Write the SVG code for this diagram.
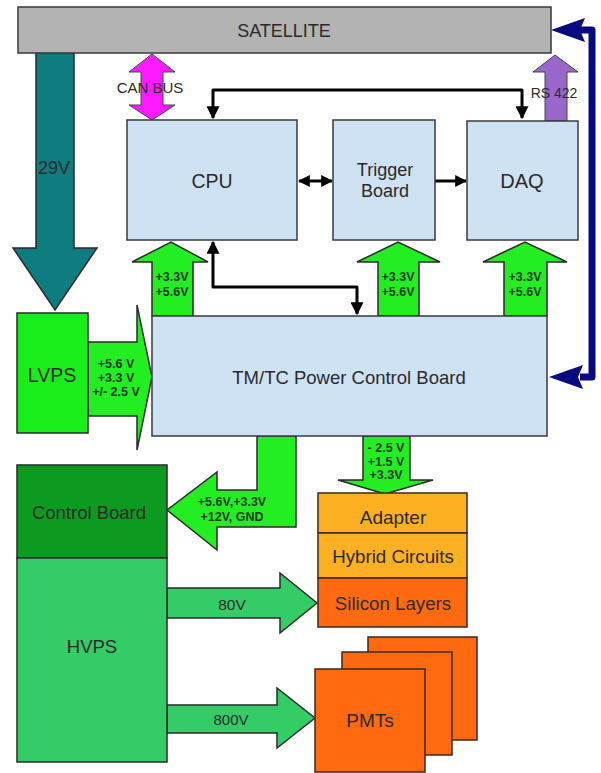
<svg xmlns="http://www.w3.org/2000/svg" width="601" height="773" viewBox="0 0 601 773">
<defs>
<style>
.box{fill:#cfe2f3;stroke:#3a3a3a;stroke-width:1.5}
.t{font-family:"Liberation Sans",Arial,sans-serif;fill:#2a2a2a;text-anchor:middle;dominant-baseline:central}
.s{font-size:12.5px;font-weight:bold;fill:#1a3a1a}
.pw{fill:#22ee22;stroke:#2a2a2a;stroke-width:1.5;stroke-linejoin:miter}
.hv{fill:#33cc66;stroke:#2a2a2a;stroke-width:1.5}
.blk{fill:none;stroke:#000;stroke-width:3;stroke-linejoin:round}
.org{fill:#ff6a10;stroke:#3a2a1a;stroke-width:1.5}
.yel{fill:#fdb021;stroke:#3a2a1a;stroke-width:1.5}
</style>
<marker id="ah" viewBox="0 0 10 10" refX="9" refY="5" markerWidth="18" markerHeight="13" markerUnits="userSpaceOnUse" orient="auto-start-reverse">
<path d="M0,0 L10,5 L0,10 z" fill="#000"/>
</marker>
<marker id="ahs" viewBox="0 0 10 10" refX="9" refY="5" markerWidth="12" markerHeight="12" markerUnits="userSpaceOnUse" orient="auto-start-reverse">
<path d="M0,0 L10,5 L0,10 z" fill="#000"/>
</marker>
</defs>
<rect width="601" height="773" fill="#fff"/>

<g id="connectors">
<!-- 29V teal arrow -->
<polygon points="36,53 74,53 74,248 97,248 55,310 13,248 36,248" fill="#0f7c80" stroke="#2a2a2a" stroke-width="1.5"/>
<text class="t" x="54" y="168" font-size="18" fill="#1a2a2a">29V</text>
<!-- CAN BUS double arrow -->
<polygon points="152,54 175,72 163,72 163,105 175,105 152,120 129,105 141,105 141,72 129,72" fill="#ff1aff" stroke="#444" stroke-width="1"/>
<text class="t" x="150" y="87" font-size="15" fill="#555">CAN BUS</text>
<!-- RS 422 purple arrow -->
<polygon points="555,55 578,72 567,72 567,121 545,121 545,72 533,72" fill="#9966cc" stroke="#444" stroke-width="1"/>
<text class="t" x="554" y="93" font-size="14" fill="#555">RS 422</text>
<!-- black CPU - DAQ top link -->
<path class="blk" d="M213,118 V90 H522 V118" marker-start="url(#ah)" marker-end="url(#ah)"/>
<!-- CPU <-> Trigger -->
<path class="blk" d="M299,181 H332" stroke-width="2" marker-start="url(#ahs)" marker-end="url(#ahs)"/>
<!-- Trigger -> DAQ -->
<path class="blk" d="M435,181 H466" stroke-width="2" marker-end="url(#ahs)"/>
<!-- CPU <-> TM/TC -->
<path class="blk" d="M213,242 V287 H357 V314" marker-start="url(#ah)" marker-end="url(#ah)"/>
<!-- power arrows up -->
<polygon class="pw" points="152,316 152,262 132,262 171,242 208,262 193,262 193,316"/>
<text class="t s" x="172" y="277">+3.3V</text>
<text class="t s" x="172" y="292">+5.6V</text>
<polygon class="pw" points="378,316 378,262 357,262 398,242 440,262 419,262 419,316"/>
<text class="t s" x="398" y="277">+3.3V</text>
<text class="t s" x="398" y="292">+5.6V</text>
<polygon class="pw" points="504,316 504,262 483,262 525,242 567,262 547,262 547,316"/>
<text class="t s" x="525" y="277">+3.3V</text>
<text class="t s" x="525" y="292">+5.6V</text>
<!-- LVPS -> TM/TC -->
<polygon class="pw" points="88,342 137,342 137,305 152,377 137,450 137,416 88,416"/>
<text class="t s" x="116" y="364" font-size="12">+5.6 V</text>
<text class="t s" x="116" y="378" font-size="12">+3.3 V</text>
<text class="t s" x="116" y="392" font-size="12">+/- 2.5 V</text>
<!-- TM/TC -> Control Board -->
<polygon class="pw" points="167,510 217,472 217,490 257,490 257,436 296,436 296,527 217,527 217,550"/>
<text class="t s" x="232" y="502">+5.6V,+3.3V</text>
<text class="t s" x="232" y="517">+12V, GND</text>
<!-- TM/TC -> Adapter -->
<polygon class="pw" points="363,436 410,436 410,480 433,480 385,494 338,480 363,480"/>
<text class="t s" x="386" y="448">- 2.5 V</text>
<text class="t s" x="386" y="462">+1.5 V</text>
<text class="t s" x="386" y="475">+3.3V</text>
<!-- HVPS arrows -->
<polygon class="hv" points="167,588 280,588 280,573 317,603 280,633 280,618 167,618"/>
<text class="t" x="232" y="604" font-size="15.5">80V</text>
<polygon class="hv" points="167,705 277,705 277,688 315,718 277,748 277,733 167,733"/>
<text class="t" x="231" y="719" font-size="15">800V</text>
<!-- navy link satellite <-> TM/TC -->
<path d="M580,30 H592 V377 H580" fill="none" stroke="#0a0a80" stroke-width="7" stroke-linejoin="round"/>
<polygon points="551,30 585,18 580,30 585,42" fill="#0a0a80"/>
<polygon points="549,377 583,365 578,377 583,389" fill="#0a0a80"/>
</g>

<g id="satellite">
<rect x="18" y="7" width="533" height="46" fill="#b3b3b3" stroke="#3a3a3a" stroke-width="1.5"/>
<text class="t" x="284" y="31" font-size="18">SATELLITE</text>
</g>
<g id="cpu">
<rect class="box" x="127" y="120" width="170" height="120"/>
<text class="t" x="212" y="181" font-size="19.5">CPU</text>
</g>
<g id="trigger">
<rect class="box" x="333" y="120" width="102" height="120"/>
<text class="t" x="385" y="170" font-size="18">Trigger</text>
<text class="t" x="385" y="191" font-size="18">Board</text>
</g>
<g id="daq">
<rect class="box" x="467" y="121" width="111" height="119"/>
<text class="t" x="522" y="181" font-size="20">DAQ</text>
</g>
<g id="tmtc">
<rect class="box" x="152" y="316" width="395" height="120"/>
<text class="t" x="349" y="377" font-size="18.5">TM/TC Power Control Board</text>
</g>
<g id="lvps">
<rect x="17" y="313" width="71" height="120" fill="#1aee1a" stroke="#2a2a2a" stroke-width="1.5"/>
<text class="t" x="52" y="375" font-size="19.5">LVPS</text>
</g>
<g id="control-board">
<rect x="17" y="465" width="150" height="93" fill="#0c9a20" stroke="#2a2a2a" stroke-width="1.5"/>
<text class="t" x="89" y="512" font-size="18.5" fill="#102010">Control Board</text>
</g>
<g id="hvps">
<rect x="17" y="558" width="150" height="204" fill="#33cc66" stroke="#2a2a2a" stroke-width="1.5"/>
<text class="t" x="92" y="646" font-size="18.5" fill="#102010">HVPS</text>
</g>
<g id="adapter">
<rect class="yel" x="318" y="493" width="149" height="40"/>
<text class="t" x="393" y="517" font-size="19" fill="#332211">Adapter</text>
</g>
<g id="hybrid">
<rect class="yel" x="318" y="533" width="149" height="45"/>
<text class="t" x="393" y="556" font-size="18.7" fill="#332211">Hybrid Circuits</text>
</g>
<g id="silicon">
<rect class="org" x="318" y="578" width="149" height="49"/>
<text class="t" x="393" y="603" font-size="18.7" fill="#331a0a">Silicon Layers</text>
</g>
<g id="pmts">
<rect class="org" x="368" y="637" width="109" height="103"/>
<rect class="org" x="342" y="652" width="110" height="103"/>
<rect class="org" x="315" y="669" width="110" height="103"/>
<text class="t" x="370" y="720" font-size="19" fill="#331a0a">PMTs</text>
</g>
</svg>
